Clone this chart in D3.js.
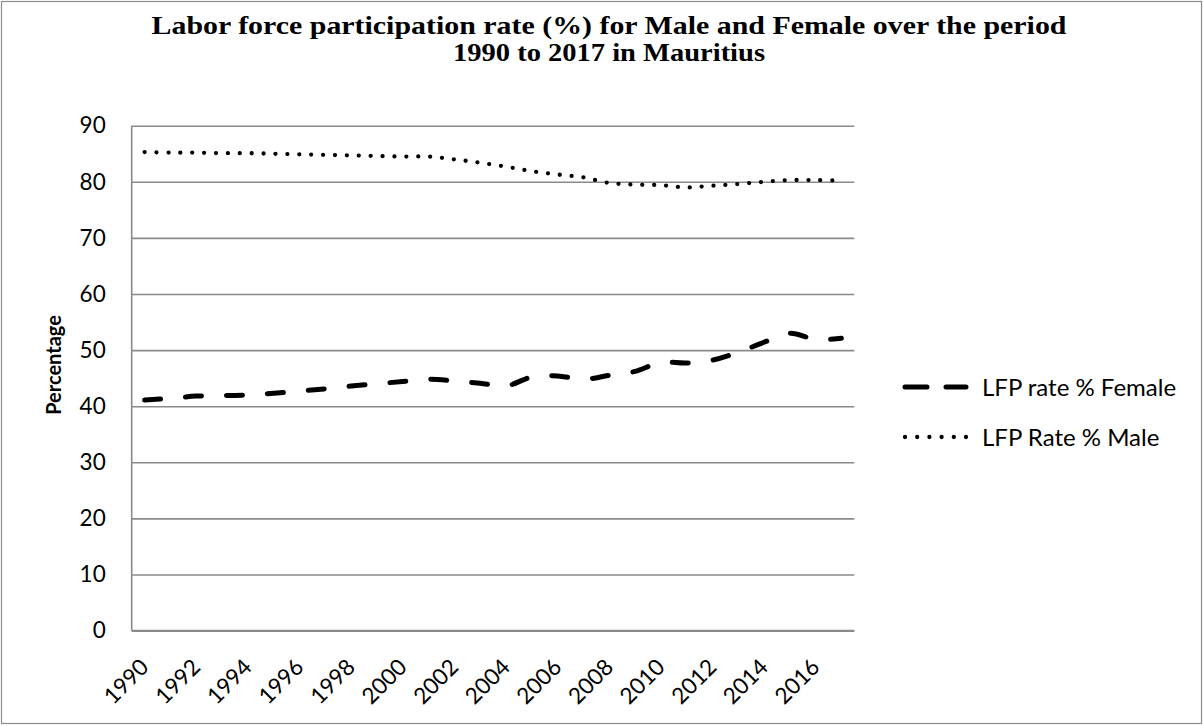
<!DOCTYPE html>
<html>
<head>
<meta charset="utf-8">
<script src="https://cdn.jsdelivr.net/npm/d3@7"></script>
<style>
  html, body { margin: 0; padding: 0; background: #fff; }
  svg { display: block; }
</style>
</head>
<body>
<svg id="chart" width="1203" height="726"></svg>
<script>
// Labor force participation rate (%), Mauritius, 1990-2017
const years = ["1990","1991","1992","1993","1994","1995","1996","1997","1998","1999",
               "2000","2001","2002","2003","2004","2005","2006","2007","2008","2009",
               "2010","2011","2012","2013","2014","2015","2016","2017"];
const femaleRate = [41.1, 41.4, 41.8, 41.9, 42.0, 42.3, 42.7, 43.1, 43.6, 44.0,
                    44.4, 44.8, 44.5, 44.1, 43.6, 45.2, 45.4, 44.8, 45.5, 46.2,
                    47.8, 47.7, 48.2, 49.6, 51.4, 53.0, 51.9, 52.1];
const maleRate =   [85.3, 85.2, 85.2, 85.1, 85.1, 85.0, 84.9, 84.8, 84.7, 84.6,
                    84.5, 84.5, 84.0, 83.4, 82.7, 81.9, 81.3, 80.8, 79.8, 79.5,
                    79.4, 79.0, 79.3, 79.6, 80.0, 80.3, 80.3, 80.2];
const xTickLabels = ["1990","1992","1994","1996","1998","2000","2002","2004",
                     "2006","2008","2010","2012","2014","2016"];
const yTickValues = [0, 10, 20, 30, 40, 50, 60, 70, 80, 90];
const seriesNames = ["LFP rate % Female", "LFP Rate % Male"];
const titleLines = ["Labor force participation rate (%) for Male and Female over the period",
                    "1990 to 2017 in Mauritius"];
const yAxisTitle = "Percentage";

const svg = d3.select("#chart");
const W = 1203, H = 726;
const plot = { left: 131.7, right: 854.3, top: 125.7, bottom: 630.6 };
const gridColor = "#8a8a8a";
const sansFont = "Lato, 'Open Sans', sans-serif";

// outer chart frame
svg.append("rect")
  .attr("x", 1.5).attr("y", 1.5)
  .attr("width", W - 3).attr("height", H - 4)
  .attr("fill", "#fff")
  .attr("stroke", "#8c8c8c").attr("stroke-width", 1.2);

const x = d3.scalePoint().domain(years).range([plot.left, plot.right]).padding(0.5);
const y = d3.scaleLinear().domain([0, 90]).range([plot.bottom, plot.top]);

// horizontal gridlines + y tick labels
const yAxis = svg.append("g")
  .attr("transform", `translate(${plot.left},0)`)
  .call(d3.axisLeft(y).tickValues(yTickValues).tickSize(-(plot.right - plot.left)).tickPadding(26));
yAxis.select(".domain").remove();
yAxis.selectAll(".tick line").attr("stroke", gridColor).attr("stroke-width", 1.6);
yAxis.selectAll(".tick text")
  .attr("font-family", sansFont).attr("font-size", 22.5).attr("fill", "#000");

// vertical value axis line
svg.append("line")
  .attr("x1", plot.left).attr("x2", plot.left)
  .attr("y1", plot.top).attr("y2", plot.bottom)
  .attr("stroke", gridColor).attr("stroke-width", 1.6);

// category axis with rotated year labels
const xAxis = svg.append("g")
  .attr("transform", `translate(0,${plot.bottom})`)
  .call(d3.axisBottom(x).tickValues(xTickLabels).tickSize(0));
xAxis.select(".domain")
  .attr("d", `M${plot.left},0H${plot.right}`)
  .attr("stroke", gridColor).attr("stroke-width", 1.6);
xAxis.selectAll(".tick text")
  .attr("font-family", sansFont).attr("font-size", 22.5).attr("fill", "#000")
  .attr("text-anchor", "end")
  .attr("dy", 0).attr("y", 0)
  .attr("transform", "translate(5,38) rotate(-45)");

// y-axis title
svg.append("text")
  .attr("transform", "translate(61,365) rotate(-90)")
  .attr("text-anchor", "middle")
  .attr("font-family", sansFont).attr("font-weight", "bold").attr("font-size", 20)
  .text(yAxisTitle);

// chart title, slightly widened serif lines
const titleWidths = [915, 312];
svg.append("g").selectAll("text").data(titleLines).join("text")
  .attr("x", 609)
  .attr("y", (d, i) => 34 + i * 27)
  .attr("text-anchor", "middle")
  .attr("font-family", "'Liberation Serif', 'Times New Roman', serif")
  .attr("font-weight", "bold").attr("font-size", 24.5)
  .attr("textLength", (d, i) => titleWidths[i])
  .attr("lengthAdjust", "spacingAndGlyphs")
  .text(d => d);

// series lines
const line = d3.line()
  .x((d, i) => x(years[i]))
  .y(d => y(d))
  .curve(d3.curveCatmullRom.alpha(0.5));

const styles = [
  { data: femaleRate, width: 5, dash: "16,25" },
  { data: maleRate, width: 4.3, dash: "0,11.9" }
];
styles.forEach(s => {
  svg.append("path")
    .datum(s.data)
    .attr("d", line)
    .attr("fill", "none")
    .attr("stroke", "#000")
    .attr("stroke-width", s.width)
    .attr("stroke-linecap", "round")
    .attr("stroke-dasharray", s.dash);
});

// legend
const legend = svg.append("g");
const legendY = [387, 437];
styles.forEach((s, i) => {
  legend.append("line")
    .attr("x1", 905).attr("x2", 966)
    .attr("y1", legendY[i]).attr("y2", legendY[i])
    .attr("stroke", "#000")
    .attr("stroke-width", s.width)
    .attr("stroke-linecap", "round")
    .attr("stroke-dasharray", i === 0 ? "22,19" : "0,12.2");
  legend.append("text")
    .attr("x", 982).attr("y", legendY[i])
    .attr("dy", "0.36em")
    .attr("font-family", sansFont).attr("font-size", 24)
    .text(seriesNames[i]);
});
</script>
</body>
</html>
